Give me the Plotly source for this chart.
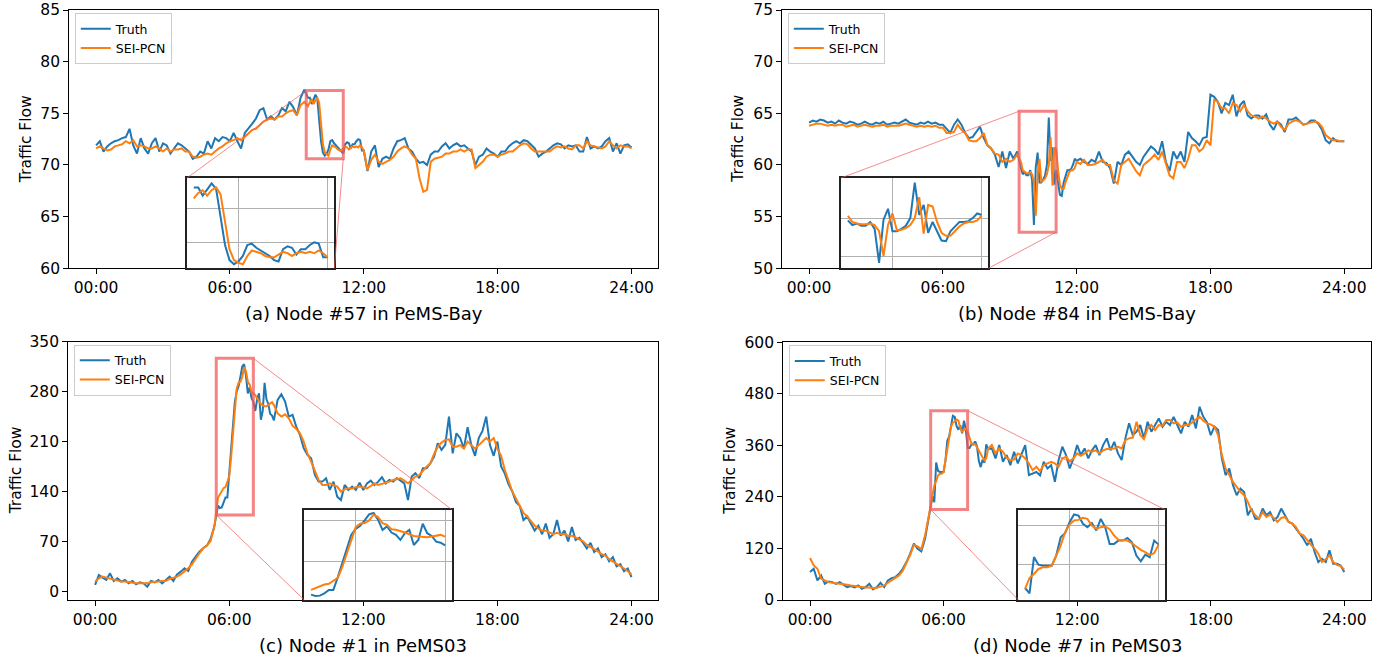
import plotly.graph_objects as go

# ---------------- data ----------------
TICK_HOURS = [0, 6, 12, 18, 24]
TICK_TEXT = ["00:00", "06:00", "12:00", "18:00", "24:00"]
SERIES_NAMES = ["Truth", "SEI-PCN"]
CAPTIONS = ["(a) Node #57 in PeMS-Bay", "(b) Node #84 in PeMS-Bay",
            "(c) Node #1 in PeMS03", "(d) Node #7 in PeMS03"]

# sampling: coarse parts every 10 min, zoomed window every 5 min
COARSE_STEP_MIN = 10
FINE_STEP_MIN = 5

# ---- (a) Node #57, PeMS-Bay ----
A_ZOOM_START_H = 9.5
A_TRUTH_PRE = [71.9, 72.3, 71.3, 71.8, 72.1, 72.3, 72.4, 72.6, 72.7, 73.5, 71.9, 71.1, 72.6, 71.6, 71.1,
               72.1, 72.6, 71.3, 72.1, 71.9, 71.1, 71.6, 72.1, 71.9, 71.6, 71.3, 70.6, 70.8, 71.3, 71.1,
               72.3, 71.6, 72.6, 72.3, 72.7, 72.6, 72.3, 73.1, 72.3, 71.6, 73.1, 73.5, 74.0, 74.5, 75.3,
               75.5, 74.4, 74.7, 74.4, 74.8, 75.5, 75.2, 76.1, 75.6, 74.8, 76.5, 77.3]
A_PRED_PRE = [71.6, 71.8, 71.6, 71.4, 71.5, 71.8, 71.9, 72.0, 72.3, 72.1, 72.4, 71.8, 71.9, 71.8, 71.6,
              71.6, 71.8, 71.6, 71.3, 71.6, 71.3, 71.5, 71.5, 71.6, 71.3, 71.3, 70.8, 70.7, 70.8, 71.0,
              71.1, 71.0, 71.3, 71.6, 71.8, 72.1, 72.3, 72.4, 72.6, 72.4, 72.7, 73.1, 73.4, 73.5, 73.9,
              74.2, 74.4, 74.5, 74.4, 74.7, 74.7, 75.0, 75.2, 75.3, 74.8, 75.8, 76.1]
A_TRUTH_ZOOM = [76.5, 76.5, 75.9, 76.4, 76.8, 76.4, 74.5, 72.3, 71.2, 70.9, 71.1, 71.5, 72.3, 72.4, 72.1,
                71.9, 71.7, 71.5, 71.2, 71.1, 72.0, 72.2, 72.1, 71.6, 72.0, 72.0, 72.3, 72.5, 72.4, 71.4, 71.4]
A_PRED_ZOOM = [75.7, 76.1, 76.3, 75.9, 76.3, 76.5, 76.0, 74.0, 72.0, 71.2, 71.0, 70.9, 71.5, 71.9, 71.8,
               71.7, 71.5, 71.4, 71.4, 71.6, 71.8, 71.7, 71.5, 71.7, 71.8, 71.7, 71.8, 71.7, 71.9, 71.7, 71.4]
A_TRUTH_POST = [69.4, 71.3, 71.9, 69.8, 70.6, 70.8, 70.6, 71.6, 72.3, 72.4, 72.6, 71.6,
                71.3, 70.6, 70.2, 70.3, 70.0, 71.0, 71.3, 71.3, 71.8, 72.1, 71.6, 71.9,
                72.1, 71.8, 71.9, 71.6, 71.3, 70.0, 70.8, 71.0, 71.6, 71.3, 71.1, 70.8,
                71.3, 71.3, 71.8, 72.1, 72.3, 72.1, 72.4, 72.3, 71.9, 71.6, 70.8, 71.1,
                71.3, 71.6, 71.9, 72.1, 72.0, 71.6, 71.9, 71.8, 71.9, 71.3, 71.3, 72.7,
                71.6, 71.8, 71.6, 71.8, 72.3, 72.6, 71.3, 72.1, 71.1, 71.9, 72.0, 71.7]
A_PRED_POST = [69.5, 70.5, 71.0, 70.3, 70.1, 70.3, 70.5, 70.8, 71.3, 71.6, 71.8, 71.6,
               71.0, 70.6, 68.7, 67.4, 67.6, 70.3, 70.6, 70.7, 70.8, 71.1, 71.1, 71.3,
               71.3, 71.5, 71.3, 71.5, 71.5, 69.7, 70.0, 70.3, 70.8, 71.0, 71.0, 70.8,
               71.0, 71.1, 71.3, 71.3, 71.6, 71.9, 72.1, 72.0, 71.6, 71.3, 71.3, 71.3,
               71.3, 71.3, 71.6, 71.8, 71.7, 71.8, 71.6, 71.5, 71.9, 71.9, 71.6, 72.3,
               71.9, 71.8, 71.7, 71.6, 71.8, 72.3, 71.9, 71.6, 71.9, 71.8, 71.8, 71.6]

# ---- (b) Node #84, PeMS-Bay ----
B_ZOOM_START_H = 9.5
B_TRUTH_PRE = [64.1, 64.3, 64.2, 64.4, 64.3, 64.1, 64.2, 64.0, 64.3, 64.1, 64.0, 64.2, 64.1, 63.9, 64.0,
               64.2, 64.0, 63.9, 64.1, 64.0, 64.2, 63.9, 64.0, 64.1, 64.0, 64.2, 64.4, 64.1, 64.0, 63.9,
               64.1, 64.0, 64.2, 64.0, 64.1, 63.9,
               63.9, 63.5, 63.1, 63.9, 64.4, 63.9, 63.1, 62.6, 62.7, 63.2, 63.7, 62.6, 61.9, 61.6, 61.0,
               59.8, 61.3, 59.7, 61.3, 60.6, 61.3]
B_PRED_PRE = [63.8, 63.9, 64.0, 64.0, 63.9, 63.8, 63.9, 63.8, 63.9, 63.9, 63.7, 63.8, 63.9, 63.7, 63.8,
              63.9, 63.8, 63.7, 63.8, 63.8, 63.9, 63.7, 63.8, 63.8, 63.8, 63.9, 64.0, 63.9, 63.8, 63.7,
              63.8, 63.7, 63.8, 63.7, 63.8, 63.6,
              63.6, 63.1, 63.1, 63.2, 63.9, 63.4, 63.1, 62.4, 62.3, 62.3, 62.6, 63.1, 61.9, 61.6, 61.1,
              61.0, 60.3, 60.6, 60.3, 60.5, 61.0]
B_TRUTH_ZOOM = [59.7, 59.1, 59.3, 59.0, 59.0, 59.5, 58.6, 54.2, 59.8, 61.2, 58.3, 58.3, 58.6, 59.0, 60.0,
                64.6, 60.4, 61.7, 58.1, 59.5, 58.3, 57.1, 57.0, 58.3, 58.9, 59.5, 59.5, 59.6, 60.0, 60.6, 60.4]
B_PRED_ZOOM = [60.3, 59.5, 59.3, 59.2, 59.2, 59.3, 59.1, 58.3, 55.1, 59.1, 60.6, 58.4, 58.5, 58.7, 59.1,
               60.0, 62.7, 58.0, 61.7, 61.5, 59.5, 58.1, 57.7, 57.7, 58.3, 58.9, 59.3, 59.5, 59.5, 59.7, 60.3]
B_TRUTH_POST = [60.6, 60.3, 60.1, 60.5, 60.3, 61.3, 60.3, 60.2, 59.7, 58.2, 60.3, 60.0,
                61.0, 61.3, 60.8, 60.3, 60.0, 60.8, 61.3, 61.8, 61.5, 61.0, 62.3, 60.3,
                59.4, 61.3, 60.6, 61.3, 60.3, 63.2, 62.6, 62.3, 61.9, 62.6, 62.7, 66.8,
                66.6, 66.1, 65.0, 66.0, 65.8, 66.8, 64.7, 65.8, 66.2, 64.8, 64.5, 64.8,
                64.8, 64.5, 64.9, 63.9, 63.4, 64.2, 63.9, 63.2, 64.4, 64.4, 64.6, 64.2,
                63.9, 64.0, 64.3, 64.3, 64.0, 63.4, 62.4, 62.1, 62.6, 62.3, 62.3, 62.3]
B_PRED_POST = [60.1, 60.5, 60.0, 60.0, 60.1, 60.3, 60.5, 60.0, 60.0, 58.5, 58.2, 60.0,
               60.3, 60.6, 60.0, 59.4, 59.0, 60.0, 60.3, 60.6, 61.0, 60.5, 61.3, 60.2,
               59.0, 58.7, 60.3, 60.3, 59.7, 60.6, 61.9, 61.9, 61.3, 61.6, 62.4, 61.9,
               66.3, 66.1, 65.5, 65.5, 65.0, 66.0, 65.8, 65.2, 65.8, 65.2, 64.8, 64.7,
               64.5, 64.7, 64.5, 64.2, 64.0, 64.2, 63.7, 63.4, 64.0, 64.2, 64.35, 64.2,
               63.9, 64.0, 64.1, 64.2, 64.1, 63.7, 62.9, 62.6, 62.4, 62.4, 62.3, 62.3]

# ---- (c) Node #1, PeMS03 ----
C_ZOOM_START_H = 5.5
C_TRUTH_PRE = [8.9, 22.9, 19.2, 15.9, 25.2, 14.5, 18.2, 13.6, 15.9, 11.2, 14.5, 9.8, 12.6, 11.2, 6.5,
               14.5, 12.6, 15.9, 11.2, 15.9, 20.6, 14.5, 23.8, 27.6, 32.3, 28.5, 41.6, 48.6, 55.6, 60.3,
               64.0, 73.4, 90.7]
C_PRED_PRE = [13.6, 18.2, 20.6, 19.2, 18.2, 15.9, 14.5, 13.6, 13.6, 12.6, 12.6, 11.2, 11.2, 11.2, 11.2,
              12.6, 13.6, 13.6, 14.5, 14.5, 17.3, 19.2, 20.6, 23.8, 27.6, 32.3, 37.9, 46.3, 53.3, 60.3,
              64.0, 70.6, 90.7]
C_TRUTH_ZOOM = [120.1, 116.8, 117.6, 123.3, 131.5, 131.5, 162.7, 197.1, 229.9, 265.2, 279.9, 287.3, 300.5,
                315.2, 318.5, 302.1, 277.5, 285.7, 270.9, 265.2, 252.9, 269.3, 277.5, 240.6, 252.9, 292.3,
                269.3, 262.7, 248.8, 246.3, 239.8]
C_PRED_ZOOM = [131.5, 136.5, 141.4, 144.7, 146.3, 152.9, 161.0, 187.3, 218.5, 252.9, 284.1, 292.3, 293.9,
               300.5, 314.4, 308.7, 293.9, 289.8, 279.1, 277.5, 275.0, 270.9, 266.8, 262.7, 261.1, 259.5,
               259.5, 261.1, 263.5, 265.2, 261.1]
C_TRUTH_POST = [268.4, 276.3, 266.0, 245.0, 247.3, 231.0, 219.3, 200.6, 191.2, 186.5, 163.2, 153.8,
                153.8, 158.5, 142.1, 153.8, 132.7, 128.0, 149.1, 142.1, 146.8, 142.1, 152.4, 142.1,
                151.4, 155.2, 149.1, 153.8, 159.9, 151.4, 156.1, 153.8, 158.5, 155.2, 151.4, 128.0,
                160.8, 165.5, 158.5, 172.5, 172.5, 179.5, 188.8, 207.5, 198.2, 205.2, 244.9, 193.5,
                221.6, 215.0, 200.0, 230.0, 205.0, 190.0, 215.0, 225.0, 245.0, 205.0, 190.0, 210.0,
                175.0, 165.0, 150.0, 140.0, 125.0, 120.0, 100.0, 105.0, 95.0, 85.0, 92.0, 80.0,
                95.0, 75.0, 80.0, 100.0, 78.0, 85.0, 70.0, 90.0, 72.0, 75.0, 68.0, 60.0,
                68.0, 55.0, 60.0, 48.0, 52.0, 42.0, 48.0, 35.0, 38.0, 28.0, 32.0, 20.0]
C_PRED_POST = [249.6, 245.0, 248.2, 242.6, 232.3, 227.7, 221.6, 209.9, 193.5, 181.9, 167.8, 156.1,
               149.1, 149.1, 151.4, 149.1, 146.8, 139.7, 142.9, 144.3, 144.3, 145.8, 146.8, 145.8,
               144.3, 147.7, 151.4, 149.1, 150.5, 151.4, 153.8, 156.1, 157.1, 158.5, 155.2, 151.4,
               156.1, 160.8, 162.9, 169.2, 174.8, 179.5, 192.6, 202.8, 208.5, 212.2, 213.1, 202.8,
               202.8, 205.0, 200.0, 210.0, 205.0, 200.0, 205.0, 210.0, 215.0, 210.0, 215.0, 200.0,
               190.0, 170.0, 155.0, 140.0, 130.0, 120.0, 110.0, 105.0, 98.0, 92.0, 88.0, 85.0,
               85.0, 82.0, 80.0, 82.0, 80.0, 80.0, 78.0, 78.0, 75.0, 72.0, 70.0, 65.0,
               62.0, 60.0, 56.0, 52.0, 50.0, 45.0, 42.0, 38.0, 35.0, 32.0, 28.0, 24.0]

# ---- (d) Node #7, PeMS03 ----
D_ZOOM_START_H = 5.5
D_TRUTH_PRE = [65.0, 72.8, 45.5, 57.2, 37.7, 43.2, 41.6, 37.7, 41.6, 35.4, 30.0, 32.3, 29.2, 33.9, 26.1,
               30.0, 37.7, 24.5, 30.0, 40.1, 30.0, 45.5, 50.8, 53.3, 61.1, 72.8, 88.3, 107.8, 131.1, 119.3,
               113.2, 142.8, 189.5]
D_PRED_PRE = [97.7, 80.5, 72.8, 49.4, 45.5, 41.6, 40.1, 39.3, 37.7, 37.0, 35.4, 33.9, 32.3, 30.7, 30.0,
              29.2, 29.2, 27.6, 28.4, 31.5, 33.9, 40.1, 45.5, 50.8, 57.2, 68.0, 85.0, 105.0, 128.0, 125.0,
              118.0, 150.0, 195.0]
D_TRUTH_ZOOM = [241.2, 227.6, 320.0, 300.8, 298.2, 298.2, 298.2, 323.9, 370.8, 381.0, 409.2, 428.8, 426.2,
                405.0, 396.5, 406.7, 388.0, 417.6, 396.5, 353.8, 353.8, 362.3, 362.3, 369.1, 358.0, 323.9,
                309.4, 326.4, 319.6, 362.3, 351.9]
D_PRED_ZOOM = [238.7, 266.8, 277.0, 289.8, 294.1, 294.1, 298.2, 323.9, 349.5, 383.6, 403.2, 413.4, 415.1,
               420.2, 417.6, 400.6, 392.3, 396.5, 398.2, 391.4, 375.2, 364.0, 364.0, 362.3, 355.5, 347.0,
               338.5, 332.5, 325.6, 330.0, 352.0]
D_TRUTH_POST = [352.9, 329.6, 360.7, 321.8, 337.4, 314.0, 345.1, 317.9, 337.4, 360.7, 290.7, 294.6,
                298.1, 290.3, 321.8, 306.2, 314.0, 275.1, 325.7, 356.8, 337.4, 306.2, 329.6, 360.7,
                337.4, 352.9, 329.6, 348.6, 360.7, 337.4, 360.7, 376.3, 348.6, 368.1, 341.3, 325.7,
                376.3, 411.3, 383.7, 391.8, 407.4, 376.3, 414.8, 391.8, 407.4, 422.6, 403.5, 414.8,
                407.4, 426.5, 407.4, 387.9, 414.8, 403.5, 430.4, 399.6, 450.0, 426.5, 413.2, 383.7,
                403.5, 395.7, 329.6, 290.7, 306.2, 267.3, 243.9, 259.5, 251.6, 197.3, 212.8, 189.1,
                189.1, 212.8, 197.3, 204.7, 185.6, 193.0, 212.8, 197.3, 181.7, 177.8, 166.1, 154.5,
                142.8, 127.2, 142.8, 111.7, 88.3, 96.1, 88.3, 115.6, 84.4, 84.4, 80.5, 65.0]
D_PRED_POST = [360.7, 341.3, 352.9, 345.1, 331.1, 325.7, 327.2, 341.3, 337.4, 329.6, 317.9, 302.1,
               310.1, 300.0, 314.0, 317.9, 321.8, 317.9, 310.1, 329.6, 333.5, 323.4, 329.6, 341.3,
               335.8, 341.3, 348.3, 345.1, 348.3, 341.3, 348.3, 351.4, 352.9, 352.9, 356.8, 352.9,
               372.2, 376.3, 378.2, 415.1, 384.0, 374.7, 399.6, 407.4, 395.7, 407.4, 405.8, 419.1,
               419.1, 411.3, 413.2, 403.5, 407.4, 407.4, 413.2, 419.1, 426.9, 417.1, 411.3, 408.9,
               403.5, 384.0, 337.4, 306.2, 290.7, 275.1, 263.4, 251.6, 243.9, 228.4, 208.9, 197.3,
               189.1, 204.7, 193.4, 198.8, 191.1, 181.7, 191.1, 193.4, 181.7, 177.8, 169.6, 154.5,
               150.6, 138.9, 128.8, 119.5, 107.8, 88.3, 94.6, 104.3, 88.3, 81.7, 79.0, 71.2]

# zoom windows (data units): red rectangle and inset limits
A_RECT = dict(x=(9.42, 11.08), y=(70.6, 77.2))
B_RECT = dict(x=(9.42, 11.08), y=(53.5, 65.2))
C_RECT = dict(x=(5.42, 7.08), y=(107.0, 326.7))
D_RECT = dict(x=(5.42, 7.08), y=(210.6, 440.8))
A_INSET_X = (9.375, 12.125)
B_INSET_X = (9.375, 12.125)
C_INSET_X = (5.375, 8.125)
D_INSET_X = (5.375, 8.125)
A_INSET_XGRID = [124 / 12, 12.0]
B_INSET_XGRID = [124 / 12, 12.0]
C_INSET_XGRID = [76 / 12, 8.0]
D_INSET_XGRID = [76 / 12, 8.0]
A_INSET_YGRID = [72.5, 75.0]
B_INSET_YGRID = [55.0, 60.0]
C_INSET_YGRID = [200.0, 300.0]
D_INSET_YGRID = [300.0, 400.0]

A_YTICKS = [60, 65, 70, 75, 80, 85]
B_YTICKS = [50, 55, 60, 65, 70, 75]
C_YTICKS = [0, 70, 140, 210, 280, 350]
D_YTICKS = [0, 120, 240, 360, 480, 600]
A_YRANGE = (60, 85)
B_YRANGE = (50, 75)
C_YRANGE = (-12.2, 350)
D_YRANGE = (0, 600)
X_RANGE = (-1.2, 25.2)

# ---------------- style / layout ----------------
W, H = 1396, 660
FONT = "DejaVu Sans"
TRUTH_COLOR = "#1f77b4"
PRED_COLOR = "#ff7f0e"
RECT_COLOR = "rgba(240,90,90,0.75)"
LINK_COLOR = "rgba(240,90,90,0.7)"
TICK_FONT = 15.5
CAPTION_FONT = 18
LEGEND_FONT = 12.5


def px_x(v):
    return v / W


def px_y(v):
    return 1 - v / H


PANELS = [
    dict(truth=(A_TRUTH_PRE, A_TRUTH_ZOOM, A_TRUTH_POST), pred=(A_PRED_PRE, A_PRED_ZOOM, A_PRED_POST),
         zs=A_ZOOM_START_H, rect=A_RECT, inset_x=A_INSET_X, ixg=A_INSET_XGRID, iyg=A_INSET_YGRID,
         yticks=A_YTICKS, yrange=A_YRANGE,
         dx=(px_x(69.3), px_x(658.3)), dy=(px_y(268.3), px_y(10)), inset_rel=(0.2, 0.45),
         links=(("tl", "tl"), ("br", "br")), ylab_shift=-43.3),
    dict(truth=(B_TRUTH_PRE, B_TRUTH_ZOOM, B_TRUTH_POST), pred=(B_PRED_PRE, B_PRED_ZOOM, B_PRED_POST),
         zs=B_ZOOM_START_H, rect=B_RECT, inset_x=B_INSET_X, ixg=B_INSET_XGRID, iyg=B_INSET_YGRID,
         yticks=B_YTICKS, yrange=B_YRANGE,
         dx=(px_x(782.3), px_x(1371)), dy=(px_y(268.3), px_y(10)), inset_rel=(0.1, 0.35),
         links=(("tl", "tl"), ("br", "br")), ylab_shift=-43.8),
    dict(truth=(C_TRUTH_PRE, C_TRUTH_ZOOM, C_TRUTH_POST), pred=(C_PRED_PRE, C_PRED_ZOOM, C_PRED_POST),
         zs=C_ZOOM_START_H, rect=C_RECT, inset_x=C_INSET_X, ixg=C_INSET_XGRID, iyg=C_INSET_YGRID,
         yticks=C_YTICKS, yrange=C_YRANGE,
         dx=(px_x(68.3), px_x(658.3)), dy=(px_y(600), px_y(341.7)), inset_rel=(0.4, 0.65),
         links=(("tr", "tr"), ("bl", "bl")), ylab_shift=-52.8),
    dict(truth=(D_TRUTH_PRE, D_TRUTH_ZOOM, D_TRUTH_POST), pred=(D_PRED_PRE, D_PRED_ZOOM, D_PRED_POST),
         zs=D_ZOOM_START_H, rect=D_RECT, inset_x=D_INSET_X, ixg=D_INSET_XGRID, iyg=D_INSET_YGRID,
         yticks=D_YTICKS, yrange=D_YRANGE,
         dx=(px_x(783.3), px_x(1371)), dy=(px_y(600), px_y(342.3)), inset_rel=(0.4, 0.65),
         links=(("tr", "tr"), ("bl", "bl")), ylab_shift=-52.8),
]


def build(parts, zoom_start):
    pre, zoom, post = parts
    t_pre = [k * COARSE_STEP_MIN / 60 for k in range(len(pre))]
    t_zoom = [zoom_start + k * FINE_STEP_MIN / 60 for k in range(len(zoom))]
    z_end = t_zoom[-1]
    t_post = [z_end + (k + 1) * COARSE_STEP_MIN / 60 for k in range(len(post))]
    return (t_pre + t_zoom + t_post, list(pre) + list(zoom) + list(post), t_zoom, list(zoom))


fig = go.Figure()
layout = dict(width=W, height=H, autosize=False, margin=dict(l=0, r=0, t=0, b=0, pad=0),
              plot_bgcolor="white", paper_bgcolor="white",
              font=dict(family=FONT, color="black"), shapes=[], annotations=[])


def lin(v, r, d):
    return d[0] + (v - r[0]) / (r[1] - r[0]) * (d[1] - d[0])


for i, p in enumerate(PANELS):
    n = i + 1
    m = n + 4
    xs, ys = ("x", "y") if n == 1 else (f"x{n}", f"y{n}")
    xi, yi = f"x{m}", f"y{m}"
    leg = "legend" if n == 1 else f"legend{n}"

    series = [build(p["truth"], p["zs"]), build(p["pred"], p["zs"])]
    colors = [TRUTH_COLOR, PRED_COLOR]
    for s, c, name in zip(series, colors, SERIES_NAMES):
        fig.add_trace(go.Scatter(x=s[0], y=s[1], mode="lines", name=name,
                                 line=dict(color=c, width=2), xaxis=xs, yaxis=ys,
                                 legend=leg, showlegend=True, hoverinfo="skip"))
    for s, c, name in zip(series, colors, SERIES_NAMES):
        fig.add_trace(go.Scatter(x=s[2], y=s[3], mode="lines", name=name,
                                 line=dict(color=c, width=2), xaxis=xi, yaxis=yi,
                                 showlegend=False, hoverinfo="skip"))

    dx, dy = p["dx"], p["dy"]
    ikey = "" if n == 1 else str(n)
    layout["xaxis" + ikey] = dict(domain=list(dx), anchor=ys, range=list(X_RANGE), automargin=False,
                                  tickmode="array", tickvals=TICK_HOURS, ticktext=TICK_TEXT,
                                  ticks="outside", ticklen=5, tickwidth=1.2, tickcolor="black",
                                  showline=True, linecolor="black", linewidth=1.2, mirror=True,
                                  showgrid=False, zeroline=False, tickfont=dict(size=TICK_FONT))
    layout["yaxis" + ikey] = dict(domain=list(dy), anchor=xs, range=list(p["yrange"]), automargin=False,
                                  tickmode="array", tickvals=p["yticks"],
                                  ticks="outside", ticklen=5, tickwidth=1.2, tickcolor="black",
                                  showline=True, linecolor="black", linewidth=1.2, mirror=True,
                                  showgrid=False, zeroline=False, tickfont=dict(size=TICK_FONT))

    # inset axes
    ix = (dx[0] + p["inset_rel"][0] * (dx[1] - dx[0]), dx[0] + p["inset_rel"][1] * (dx[1] - dx[0]))
    iy = (dy[0], dy[0] + 0.35 * (dy[1] - dy[0]))
    rect = p["rect"]
    layout[f"xaxis{m}"] = dict(domain=list(ix), anchor=yi, range=list(p["inset_x"]), automargin=False,
                               tickmode="array", tickvals=p["ixg"], showticklabels=False, ticks="",
                               showgrid=True, gridcolor="#b0b0b0", gridwidth=1,
                               showline=True, linecolor="#222222", linewidth=1.5, mirror=True,
                               zeroline=False)
    layout[f"yaxis{m}"] = dict(domain=list(iy), anchor=xi, range=list(rect["y"]), automargin=False,
                               tickmode="array", tickvals=p["iyg"], showticklabels=False, ticks="",
                               showgrid=True, gridcolor="#b0b0b0", gridwidth=1,
                               showline=True, linecolor="#222222", linewidth=1.5, mirror=True,
                               zeroline=False)

    # red zoom rectangle
    layout["shapes"].append(dict(type="rect", xref=xs, yref=ys,
                                 x0=rect["x"][0], x1=rect["x"][1], y0=rect["y"][0], y1=rect["y"][1],
                                 line=dict(color=RECT_COLOR, width=3), fillcolor="rgba(0,0,0,0)"))
    # connector lines: rect corner -> inset corner
    rx = [lin(v, X_RANGE, dx) for v in rect["x"]]
    ry = [lin(v, p["yrange"], dy) for v in rect["y"]]
    rc = {"tl": (rx[0], ry[1]), "tr": (rx[1], ry[1]), "bl": (rx[0], ry[0]), "br": (rx[1], ry[0])}
    ic = {"tl": (ix[0], iy[1]), "tr": (ix[1], iy[1]), "bl": (ix[0], iy[0]), "br": (ix[1], iy[0])}
    for a, b in p["links"]:
        layout["shapes"].append(dict(type="line", xref="paper", yref="paper",
                                     x0=rc[a][0], y0=rc[a][1], x1=ic[b][0], y1=ic[b][1],
                                     line=dict(color=LINK_COLOR, width=1)))

    # legend box
    layout[leg] = dict(x=dx[0] + 5.5 / W, y=dy[1] - 3 / H, xanchor="left", yanchor="top",
                       bgcolor="white", bordercolor="#cccccc", borderwidth=1,
                       font=dict(size=LEGEND_FONT, family=FONT), tracegroupgap=0)

    # caption and y-axis label
    layout["annotations"].append(dict(text=CAPTIONS[i], xref="paper", yref="paper",
                                      x=(dx[0] + dx[1]) / 2, y=dy[0], yshift=-45,
                                      xanchor="center", yanchor="middle", showarrow=False,
                                      font=dict(size=CAPTION_FONT, family=FONT)))
    layout["annotations"].append(dict(text="Traffic Flow", xref="paper", yref="paper",
                                      x=dx[0], y=(dy[0] + dy[1]) / 2, xshift=p["ylab_shift"],
                                      xanchor="center", yanchor="middle", textangle=-90,
                                      showarrow=False, font=dict(size=TICK_FONT, family=FONT)))

fig.update_layout(**layout)
fig.write_html("out.html", config={"displayModeBar": False},
               post_script="document.body.style.margin='0px';document.body.style.overflow='hidden';")
